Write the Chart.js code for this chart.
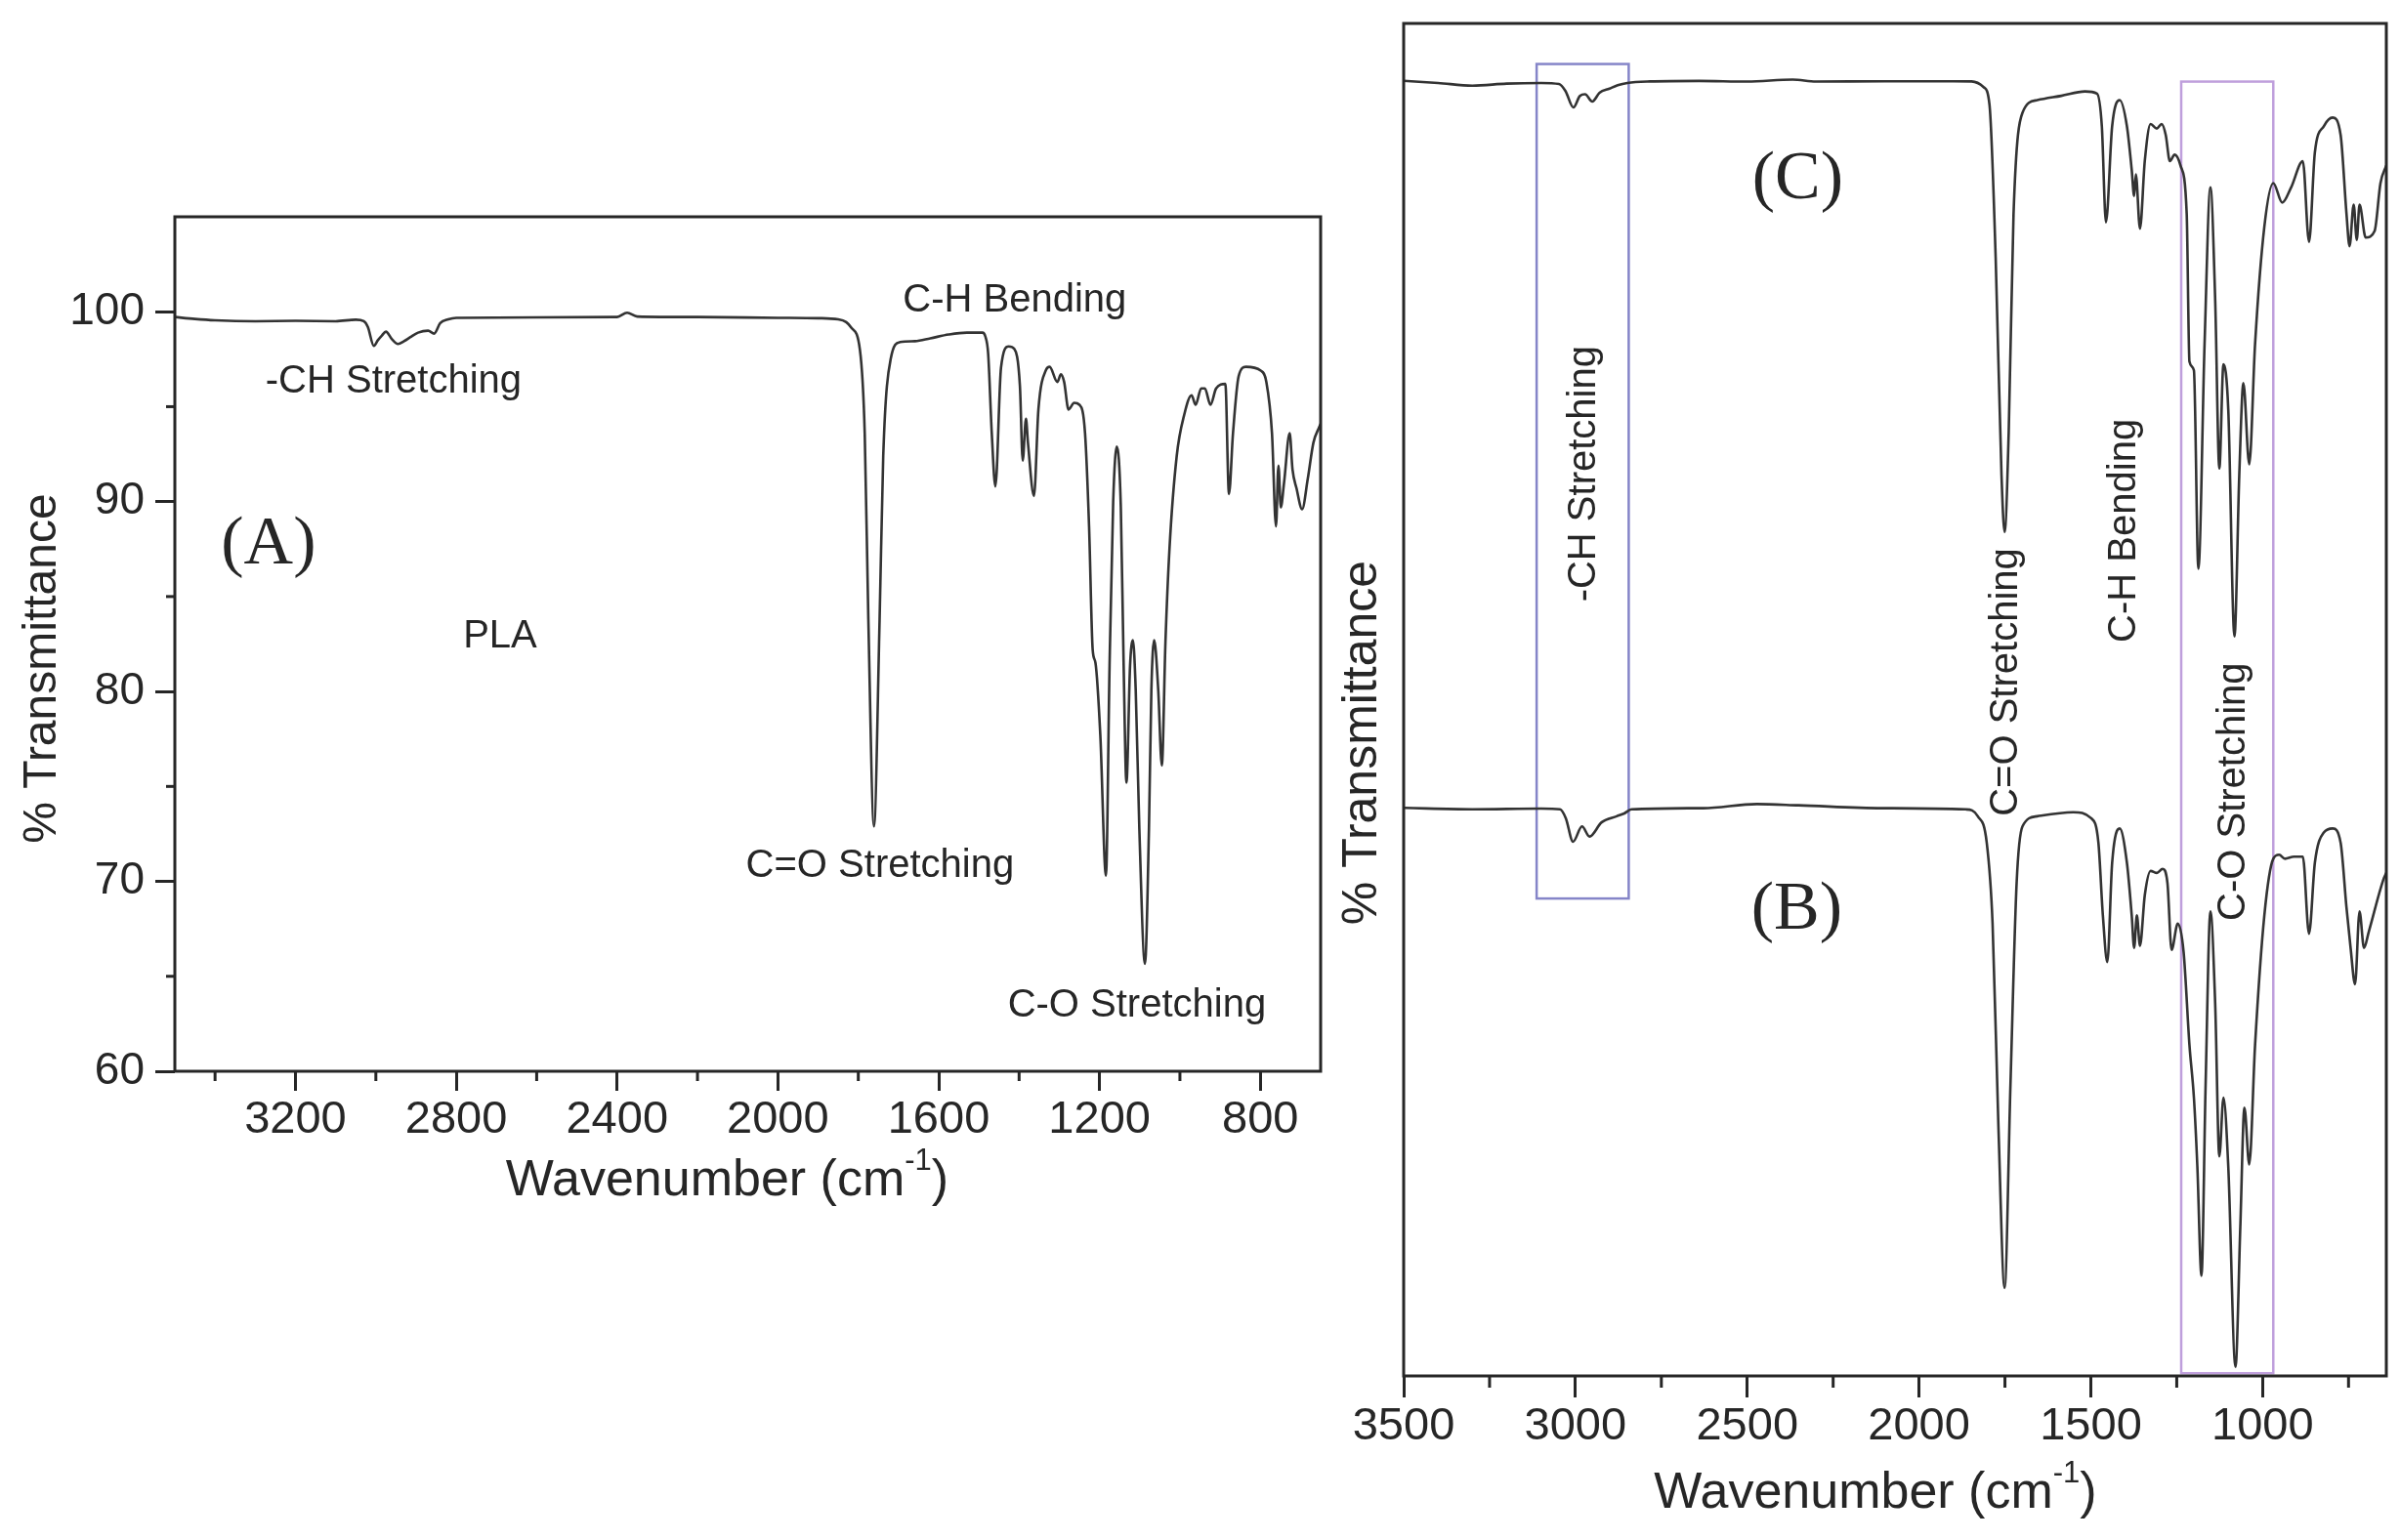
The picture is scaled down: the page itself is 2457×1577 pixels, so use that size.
<!DOCTYPE html>
<html>
<head>
<meta charset="utf-8">
<script src="https://cdn.jsdelivr.net/npm/chart.js@4.4.0/dist/chart.umd.min.js"></script>
<style>
  html, body { margin: 0; padding: 0; background: #fff; }
  body { width: 2457px; height: 1577px; position: relative; overflow: hidden; }
  #wrapA { position: absolute; left: 0; top: 0; width: 1364px; height: 1577px; }
  #wrapBC { position: absolute; left: 1364px; top: 0; width: 1093px; height: 1577px; }
</style>
</head>
<body>
<div id="wrapA"><canvas id="graficoA"></canvas></div>
<div id="wrapBC"><canvas id="graficoBC"></canvas></div>
<script>
// espectro (A) PLA: numero de onda (cm-1) e % transmitancia
const plaWn = [3500, 3450, 3400, 3300, 3200, 3100, 3050, 3030, 3020, 3005, 2995, 2985, 2975, 2960, 2945, 2930, 2915, 2895, 2870, 2855, 2840, 2820, 2800, 2600, 2400, 2375, 2350, 2200, 2000, 1900, 1850, 1830, 1817, 1796, 1784, 1775, 1761, 1747, 1738, 1719, 1696, 1659, 1621, 1575, 1530, 1491, 1484, 1477, 1468, 1459, 1445, 1426, 1412, 1398, 1391, 1383, 1378, 1363, 1352, 1333, 1324, 1305, 1296, 1288, 1277, 1263, 1250, 1236, 1226, 1217, 1210, 1198, 1184, 1175, 1166, 1157, 1147, 1140, 1133, 1124, 1117, 1110, 1101, 1087, 1077, 1071, 1064, 1054, 1045, 1036, 1026, 1008, 989, 971, 961, 947, 938, 924, 910, 887, 878, 868, 854, 836, 799, 785, 771, 761, 755, 749, 741, 727, 720, 710, 696, 682, 668, 654, 650];
const plaT = [99.72, 99.62, 99.55, 99.5, 99.52, 99.5, 99.58, 99.5, 99.2, 98.2, 98.5, 98.75, 98.95, 98.55, 98.3, 98.45, 98.65, 98.9, 99.0, 98.85, 99.4, 99.6, 99.68, 99.7, 99.72, 99.95, 99.75, 99.72, 99.68, 99.66, 99.6, 99.45, 99.15, 98.0, 93.6, 83.8, 72.9, 83.8, 92.4, 97.55, 98.4, 98.45, 98.6, 98.8, 98.9, 98.9, 98.7, 97.8, 93.6, 90.8, 97.06, 98.17, 98.04, 96.1, 92.16, 94.36, 93.1, 90.3, 94.85, 96.94, 97.1, 96.3, 96.7, 96.3, 94.85, 95.2, 95.1, 93.6, 88.7, 82.2, 81.5, 77.7, 70.3, 81.4, 90.0, 92.9, 89.7, 81.4, 75.2, 81.36, 82.7, 80.1, 72.8, 65.66, 72.8, 80.1, 82.7, 80.1, 76.1, 82.6, 87.5, 92.4, 94.6, 95.6, 95.1, 95.96, 95.96, 95.1, 95.96, 96.2, 90.4, 93.6, 96.6, 97.1, 96.9, 96.3, 93.6, 88.7, 91.9, 89.7, 91.0, 93.6, 91.7, 90.7, 89.6, 91.2, 93.1, 93.9, 94.1];

// espectro (C), curva de cima (unidades arbitrarias)
const cWn = [3500, 3400, 3300, 3200, 3100, 3048, 3029, 3006, 2987, 2972, 2951, 2930, 2901, 2877, 2849, 2783, 2640, 2500, 2368, 2300, 2100, 1900, 1847, 1812, 1795, 1777, 1760, 1751, 1739, 1725, 1699, 1656, 1586, 1517, 1482, 1468, 1456, 1438, 1416, 1395, 1381, 1374, 1369, 1357, 1343, 1326, 1308, 1294, 1282, 1270, 1256, 1239, 1221, 1213, 1200, 1187, 1169, 1152, 1138, 1126, 1114, 1100, 1082, 1068, 1056, 1039, 1022, 995, 969, 943, 917, 883, 865, 848, 822, 796, 773, 756, 747, 735, 726, 718, 700, 674, 657, 640];
const cVal = [95.76, 95.6, 95.4, 95.55, 95.6, 95.52, 95.0, 93.79, 94.64, 94.76, 94.22, 94.87, 95.18, 95.43, 95.6, 95.71, 95.75, 95.7, 95.85, 95.7, 95.72, 95.72, 95.71, 95.29, 94.0, 82.7, 66.6, 62.4, 69.8, 85.9, 93.4, 94.33, 94.65, 94.97, 94.81, 92.4, 85.3, 92.4, 94.33, 92.4, 89.17, 87.24, 88.85, 84.82, 89.82, 92.56, 92.23, 92.56, 91.75, 89.82, 90.3, 89.49, 85.95, 75.0, 74.35, 59.68, 76.3, 87.88, 79.5, 67.1, 74.8, 71.45, 54.68, 66.6, 73.4, 67.4, 76.3, 84.98, 88.2, 86.75, 87.88, 89.82, 83.85, 90.46, 92.4, 93.04, 91.75, 85.95, 83.53, 86.6, 84.0, 86.6, 84.17, 84.66, 88.2, 89.5];

// espectro (B), curva de baixo
const bWn = [3500, 3300, 3100, 3045, 3028, 3007, 2981, 2959, 2924, 2880, 2858, 2837, 2628, 2472, 2351, 2107, 1864, 1829, 1803, 1786, 1769, 1751, 1734, 1716, 1699, 1656, 1551, 1499, 1478, 1465, 1452, 1438, 1416, 1395, 1381, 1374, 1366, 1357, 1343, 1326, 1308, 1291, 1277, 1265, 1247, 1230, 1213, 1200, 1190, 1178, 1166, 1152, 1138, 1126, 1114, 1100, 1079, 1065, 1053, 1039, 1022, 995, 969, 952, 935, 909, 883, 865, 848, 822, 796, 773, 756, 744, 731, 718, 705, 691, 648, 640];
const bVal = [42.0, 41.9, 41.95, 41.89, 41.23, 39.5, 40.63, 39.88, 40.93, 41.38, 41.59, 41.89, 41.98, 42.28, 42.19, 41.98, 41.89, 41.38, 39.43, 33.45, 18.48, 6.51, 21.48, 36.44, 40.63, 41.38, 41.68, 41.23, 39.43, 34.05, 30.6, 37.94, 40.48, 37.94, 34.05, 31.65, 34.05, 31.8, 35.54, 37.34, 37.19, 37.49, 36.44, 31.5, 33.45, 31.35, 24.47, 20.58, 15.49, 7.41, 21.48, 34.35, 27.46, 16.24, 20.58, 15.49, 0.67, 11.0, 19.83, 15.64, 24.47, 34.05, 38.24, 38.54, 38.24, 38.39, 38.39, 32.7, 37.94, 40.18, 40.48, 39.43, 34.65, 31.65, 28.96, 34.35, 31.65, 32.85, 36.74, 37.2];

// marcas dos eixos
const ticksXA = [3200, 2800, 2400, 2000, 1600, 1200, 800];
const ticksYA = [60, 70, 80, 90, 100];
const ticksXBC = [3500, 3000, 2500, 2000, 1500, 1000];

// textos e onde ficam (em unidades dos eixos)
const notasA = [
  ['C-H Bending', 1411, 100.6],
  ['-CH Stretching', 2956, 96.3],
  ['PLA', 2691, 82.9],
  ['C=O Stretching', 1746, 70.8],
  ['C-O Stretching', 1107, 63.45]
];
const letrasA = [['(A)', 3267, 87.7]];
const notasBC = [
  ['-CH Stretching', 2973, 66.7],
  ['C=O Stretching', 1746, 51.3],
  ['C-H Bending', 1402, 62.5],
  ['C-O Stretching', 1083, 43.2]
];
const letrasBC = [['(C)', 2353, 88.4], ['(B)', 2356, 34.4]];
// caixas: de, ate (cm-1), topo, base
const caixasBC = [[3113, 2845, 97.0, 35.3], [1237, 969, 95.7, 0.2]];
const coresCaixas = ['#8585c8', '#bf9fdc'];

const sans = '"Liberation Sans", Arial, Helvetica, sans-serif';
const serif = '"Liberation Serif", "Times New Roman", serif';
const tinta = '#262626';

function pontos(xs, ys) {
  return xs.map((x, i) => ({ x: x, y: ys[i] }));
}

function tituloX(ctx, cx, cy, size) {
  const f1 = `${size}px ${sans}`, f2 = `${Math.round(size * 0.6)}px ${sans}`;
  ctx.font = f1; const w1 = ctx.measureText('Wavenumber (cm').width; const w3 = ctx.measureText(')').width;
  ctx.font = f2; const w2 = ctx.measureText('-1').width;
  let x = cx - (w1 + w2 + w3) / 2;
  ctx.textAlign = 'left'; ctx.textBaseline = 'middle';
  ctx.font = f1; ctx.fillText('Wavenumber (cm', x, cy); x += w1;
  ctx.font = f2; ctx.fillText('-1', x, cy - size * 0.4); x += w2;
  ctx.font = f1; ctx.fillText(')', x, cy);
}

function textoVertical(ctx, txt, x, y, font) {
  ctx.save();
  ctx.translate(x, y);
  ctx.rotate(-Math.PI / 2);
  ctx.font = font; ctx.textAlign = 'center'; ctx.textBaseline = 'middle';
  ctx.fillText(txt, 0, 0);
  ctx.restore();
}

const extras = {
  id: 'extras',
  beforeDatasetsDraw(chart, args, o) {
    const ctx = chart.ctx, sx = chart.scales.x, sy = chart.scales.y;
    ctx.save();
    ctx.lineWidth = 2.5;
    (o.caixas || []).forEach((c, i) => {
      const x1 = sx.getPixelForValue(c[0]), x2 = sx.getPixelForValue(c[1]);
      const y1 = sy.getPixelForValue(c[2]), y2 = sy.getPixelForValue(c[3]);
      ctx.strokeStyle = o.cores[i];
      ctx.strokeRect(Math.min(x1, x2), y1, Math.abs(x2 - x1), y2 - y1);
    });
    ctx.restore();
  },
  afterDraw(chart, args, o) {
    const ctx = chart.ctx, a = chart.chartArea;
    const sx = chart.scales.x, sy = chart.scales.y;
    ctx.save();
    ctx.strokeStyle = tinta; ctx.fillStyle = tinta;
    ctx.lineWidth = 3;
    ctx.strokeRect(a.left, a.top, a.right - a.left, a.bottom - a.top);
    // ticks menores
    for (let v = o.menorX[0]; v <= o.menorX[1]; v += o.menorX[2]) {
      const px = sx.getPixelForValue(v);
      ctx.beginPath(); ctx.moveTo(px, a.bottom); ctx.lineTo(px, a.bottom + o.menorX[3]); ctx.stroke();
    }
    if (o.menorY) {
      for (let v = o.menorY[0]; v <= o.menorY[1]; v += o.menorY[2]) {
        const py = sy.getPixelForValue(v);
        ctx.beginPath(); ctx.moveTo(a.left - o.menorY[3], py); ctx.lineTo(a.left, py); ctx.stroke();
      }
    }
    // anotacoes
    (o.notas || []).forEach(n => {
      const x = sx.getPixelForValue(n[1]), y = sy.getPixelForValue(n[2]);
      if (o.vertical) {
        textoVertical(ctx, n[0], x, y, `${o.tamNota}px ${sans}`);
      } else {
        ctx.font = `${o.tamNota}px ${sans}`; ctx.textAlign = 'center'; ctx.textBaseline = 'middle';
        ctx.fillText(n[0], x, y);
      }
    });
    (o.letras || []).forEach(n => {
      ctx.font = `70px ${serif}`; ctx.textAlign = 'center'; ctx.textBaseline = 'middle';
      ctx.fillText(n[0], sx.getPixelForValue(n[1]), sy.getPixelForValue(n[2]));
    });
    // titulos dos eixos
    const cx = (a.left + a.right) / 2, cy = (a.top + a.bottom) / 2;
    tituloX(ctx, cx + o.tx[0], a.bottom + o.tx[1], 52);
    textoVertical(ctx, '% Transmittance', a.left + o.ty[0], cy + o.ty[1], `${o.ty[2]}px ${sans}`);
    ctx.restore();
  }
};

const eixoX = (min, lista, tick) => ({
  type: 'linear', reverse: true, min: min, max: 3500,
  border: { display: false },
  grid: { drawOnChartArea: false, drawTicks: true, tickLength: tick, tickWidth: 3, tickColor: tinta },
  ticks: { padding: 2, color: tinta, font: { family: sans, size: 47 }, maxRotation: 0, autoSkip: false, callback: v => String(v) },
  afterBuildTicks(scale) { scale.ticks = lista.map(v => ({ value: v })); },
  afterFit(scale) { scale.height = 100; }
});

new Chart(document.getElementById('graficoA'), {
  type: 'line',
  data: {
    datasets: [{
      data: pontos(plaWn, plaT),
      borderColor: '#333', borderWidth: 2.6, pointRadius: 0,
      cubicInterpolationMode: 'monotone', fill: false
    }]
  },
  options: {
    responsive: true, maintainAspectRatio: false, animation: false,
    layout: { padding: { left: 59, top: 222, right: 12, bottom: 380 } },
    plugins: {
      legend: { display: false }, tooltip: { enabled: false },
      extras: {
        menorX: [1000, 3400, 400, 10], menorY: [65, 95, 10, 9],
        notas: notasA, letras: letrasA, tamNota: 40, vertical: false,
        tx: [-21, 113], ty: [-135, 25, 48]
      }
    },
    scales: {
      x: eixoX(650, ticksXA, 20),
      y: {
        min: 60, max: 105,
        border: { display: false },
        grid: { drawOnChartArea: false, drawTicks: true, tickLength: 20, tickWidth: 3, tickColor: tinta },
        ticks: { padding: 11, color: tinta, font: { family: sans, size: 46 }, callback: v => String(v) },
        afterBuildTicks(scale) { scale.ticks = ticksYA.map(v => ({ value: v })); },
        afterFit(scale) { scale.width = 120; }
      }
    }
  },
  plugins: [extras]
});

new Chart(document.getElementById('graficoBC'), {
  type: 'line',
  data: {
    datasets: [
      { data: pontos(cWn, cVal), borderColor: '#333', borderWidth: 2.6, pointRadius: 0, cubicInterpolationMode: 'monotone', fill: false },
      { data: pontos(bWn, bVal), borderColor: '#333', borderWidth: 2.6, pointRadius: 0, cubicInterpolationMode: 'monotone', fill: false }
    ]
  },
  options: {
    responsive: true, maintainAspectRatio: false, animation: false,
    layout: { padding: { left: 13, top: 24, right: 14, bottom: 68 } },
    plugins: {
      legend: { display: false }, tooltip: { enabled: false },
      extras: {
        menorX: [750, 3250, 500, 12],
        notas: notasBC, letras: letrasBC, caixas: caixasBC, cores: coresCaixas,
        tamNota: 40, vertical: true,
        tx: [-20, 121], ty: [-42, 44, 50]
      }
    },
    scales: {
      x: eixoX(640, ticksXBC, 22),
      y: {
        min: 0, max: 100,
        border: { display: false },
        grid: { display: false },
        ticks: { display: false },
        afterFit(scale) { scale.width = 60; }
      }
    }
  },
  plugins: [extras]
});
</script>
</body>
</html>
